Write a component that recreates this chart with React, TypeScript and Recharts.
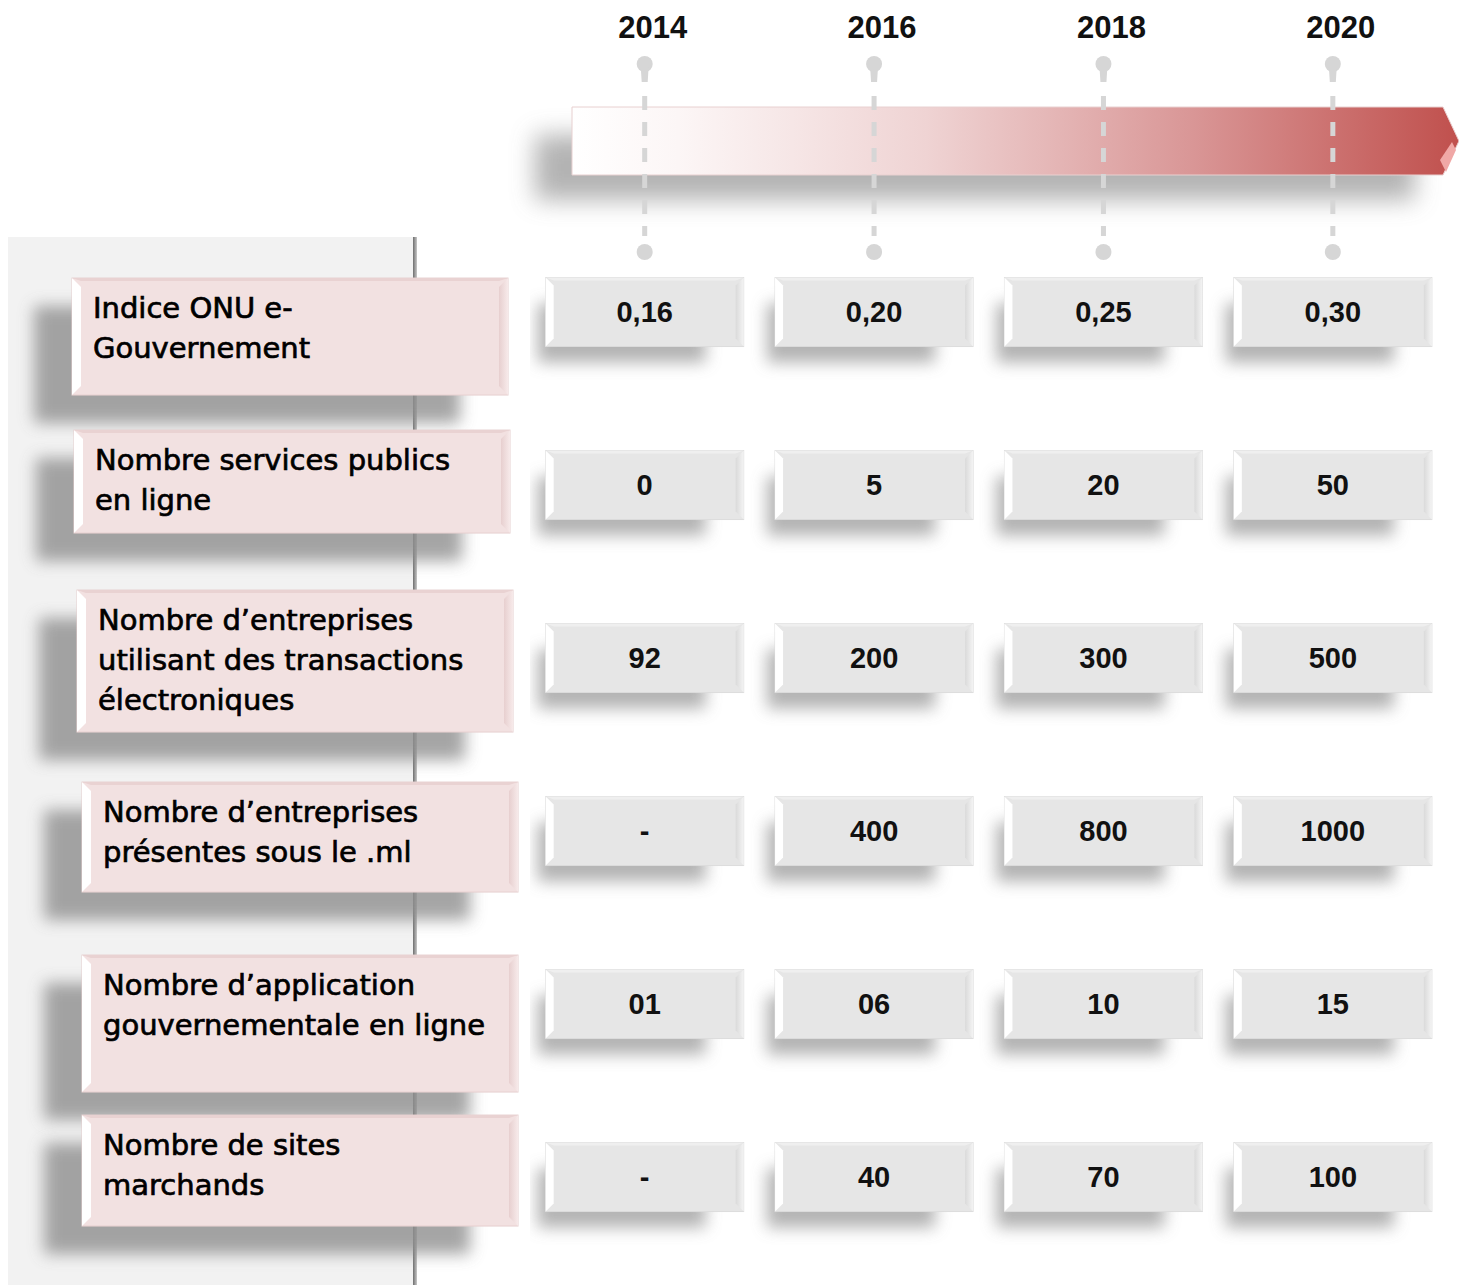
import React from 'react';
import { ScatterChart, Scatter, XAxis, YAxis, Customized } from 'recharts';

const YEARS = [2014, 2016, 2018, 2020];

const INDICATORS = [
  'Indice ONU e-\nGouvernement',
  'Nombre services publics\nen ligne',
  'Nombre d’entreprises\nutilisant des transactions\nélectroniques',
  'Nombre d’entreprises\nprésentes sous le .ml',
  'Nombre d’application\ngouvernementale en ligne',
  'Nombre de sites\nmarchands',
];

const VALUES_2014 = ['0,16', '0', '92', '-', '01', '-'];
const VALUES_2016 = ['0,20', '5', '200', '400', '06', '40'];
const VALUES_2018 = ['0,25', '20', '300', '800', '10', '70'];
const VALUES_2020 = ['0,30', '50', '500', '1000', '15', '100'];

const COLUMNS = [VALUES_2014, VALUES_2016, VALUES_2018, VALUES_2020];

const cells = YEARS.flatMap((year, i) =>
  COLUMNS[i].map((value, row) => ({ year, row, value }))
);

// label boxes: left edge, top offset from row centre, height
const LABEL_LAYOUT = [
  { x: 72, dy: -34, h: 117 },
  { x: 74, dy: -55, h: 103 },
  { x: 77, dy: -68, h: 142 },
  { x: 82, dy: -49, h: 110 },
  { x: 82, dy: -49, h: 137 },
  { x: 82, dy: -62, h: 111 },
];
const LABEL_W = 436;
const CELL_W = 198;
const CELL_H = 69;

const LABEL_FONT = '"DejaVu Sans", sans-serif';
const NUM_FONT = '"Liberation Sans", Arial, sans-serif';

const Defs = () => (
  <defs>
    <linearGradient id="arrowGrad" x1="0" y1="0" x2="1" y2="0">
      <stop offset="0" stopColor="#ffffff" />
      <stop offset="0.12" stopColor="#fcf6f6" />
      <stop offset="0.4" stopColor="#efd3d3" />
      <stop offset="0.7" stopColor="#d99696" />
      <stop offset="1" stopColor="#c0504d" />
    </linearGradient>
    <linearGradient id="edgeGrad" x1="0" y1="0" x2="1" y2="0">
      <stop offset="0" stopColor="#6e6e6e" />
      <stop offset="1" stopColor="#c8c8c8" />
    </linearGradient>
    <linearGradient id="pinkBevel" x1="0" y1="0" x2="1" y2="0">
      <stop offset="0" stopColor="#e7cfcf" />
      <stop offset="1" stopColor="#f7eaea" />
    </linearGradient>
    <linearGradient id="grayBevel" x1="0" y1="0" x2="1" y2="0">
      <stop offset="0" stopColor="#dadada" />
      <stop offset="1" stopColor="#f4f4f4" />
    </linearGradient>
    <filter id="blur8" x="-30%" y="-60%" width="160%" height="220%">
      <feGaussianBlur stdDeviation="8" />
    </filter>
    <filter id="blur12" x="-30%" y="-80%" width="160%" height="260%">
      <feGaussianBlur stdDeviation="12" />
    </filter>
  </defs>
);

const Background = () => (
  <g>
    <Defs />
    {/* left panel */}
    <rect x={8} y={237} width={405} height={1048} fill="#f2f2f2" />
    <rect x={413} y={237} width={4} height={1048} fill="url(#edgeGrad)" />
    {/* timeline arrow */}
    <rect x={535} y={135} width={880} height={65} fill="#9a9a9a" opacity={0.75} filter="url(#blur12)" />
    <polygon
      points="572,107 1443,107 1459,141 1443,175 572,175"
      fill="url(#arrowGrad)"
      stroke="#e8d0d0"
      strokeWidth={1}
    />
    <polygon points="1440,160 1452,142 1456,150 1446,172" fill="#f0a8a6" />
  </g>
);

const YearTick = (props: any) => {
  const { x, payload } = props;
  return (
    <g>
      <text
        x={x + 8}
        y={38}
        textAnchor="middle"
        fontFamily={NUM_FONT}
        fontWeight="bold"
        fontSize={31}
        fill="#111"
      >
        {payload.value}
      </text>
      <circle cx={x} cy={64} r={8} fill="#d6d6d6" />
      <polygon points={`${x - 4},66 ${x + 4},66 ${x + 3},82 ${x - 3},82`} fill="#d6d6d6" />
      <line
        x1={x}
        y1={96}
        x2={x}
        y2={236}
        stroke="#d6d6d6"
        strokeWidth={5}
        strokeDasharray="14 12"
      />
      <circle cx={x} cy={252} r={8} fill="#d6d6d6" />
    </g>
  );
};

const LabelTick = (props: any) => {
  const { y, payload } = props;
  const row = payload.value as number;
  const lay = LABEL_LAYOUT[row];
  if (!lay) return null;
  const top = y + lay.dy;
  const left = lay.x;
  const h = lay.h;
  const b = 9;
  const lines = INDICATORS[row].split('\n');
  return (
    <g>
      <rect x={left - 38} y={top + 28} width={LABEL_W - 10} height={h} fill="#8f8f8f" opacity={0.8} filter="url(#blur8)" />
      <rect x={left} y={top} width={LABEL_W} height={h} fill="#f2e1e1" stroke="#e6cfcf" strokeWidth={1} />
      <polygon points={`${left},${top} ${left + b},${top + b} ${left + b},${top + h - b} ${left},${top + h}`} fill="#ffffff" />
      <polygon
        points={`${left + LABEL_W},${top} ${left + LABEL_W - b},${top + b} ${left + LABEL_W - b},${top + h - b} ${left + LABEL_W},${top + h}`}
        fill="url(#pinkBevel)"
      />
      <polygon points={`${left},${top} ${left + LABEL_W},${top} ${left + LABEL_W - b},${top + 3} ${left + b},${top + 3}`} fill="#e9d2d2" />
      {lines.map((ln, i) => (
        <text
          key={i}
          x={left + 21}
          y={top + 40 + i * 40}
          fontFamily={LABEL_FONT}
          fontSize={29}
          fill="#000"
          stroke="#000"
          strokeWidth={0.7}
        >
          {ln}
        </text>
      ))}
    </g>
  );
};

const CellShape = (props: any) => {
  const { cx, cy, payload } = props;
  const left = cx - CELL_W / 2;
  const top = cy - CELL_H / 2;
  const w = CELL_W;
  const h = CELL_H;
  const b = 8;
  return (
    <g>
      <rect x={left - 8} y={top + 26} width={w - 30} height={h - 10} fill="#9a9a9a" opacity={0.75} filter="url(#blur8)" />
      <rect x={left} y={top} width={w} height={h} fill="#e6e6e6" stroke="#dcdcdc" strokeWidth={1} />
      <polygon points={`${left},${top} ${left + b},${top + b} ${left + b},${top + h - b} ${left},${top + h}`} fill="#ffffff" />
      <polygon
        points={`${left + w},${top} ${left + w - b},${top + b} ${left + w - b},${top + h - b} ${left + w},${top + h}`}
        fill="url(#grayBevel)"
      />
      <polygon points={`${left},${top} ${left + w},${top} ${left + w - b},${top + 3} ${left + b},${top + 3}`} fill="#efefef" />
      <text
        x={cx}
        y={cy + 10}
        textAnchor="middle"
        fontFamily={NUM_FONT}
        fontWeight="bold"
        fontSize={29}
        fill="#111"
      >
        {payload.value}
      </text>
    </g>
  );
};

export default function App() {
  return (
    <div style={{ position: 'absolute', left: 0, top: 0, width: 1459, height: 1285, background: '#fff' }}>
      <ScatterChart width={1459} height={1285} margin={{ top: 0, right: 0, bottom: 0, left: 0 }}>
        <Customized component={Background} />
        <XAxis
          type="number"
          dataKey="year"
          orientation="top"
          height={270}
          domain={[2013, 2021.1]}
          allowDataOverflow
          ticks={YEARS}
          interval={0}
          axisLine={false}
          tickLine={false}
          tick={<YearTick />}
        />
        <YAxis
          type="number"
          dataKey="row"
          width={530}
          reversed
          domain={[-0.243, 5.624]}
          allowDataOverflow
          ticks={[0, 1, 2, 3, 4, 5]}
          interval={0}
          axisLine={false}
          tickLine={false}
          tick={<LabelTick />}
        />
        <Scatter data={cells} isAnimationActive={false} shape={<CellShape />} />
      </ScatterChart>
    </div>
  );
}
